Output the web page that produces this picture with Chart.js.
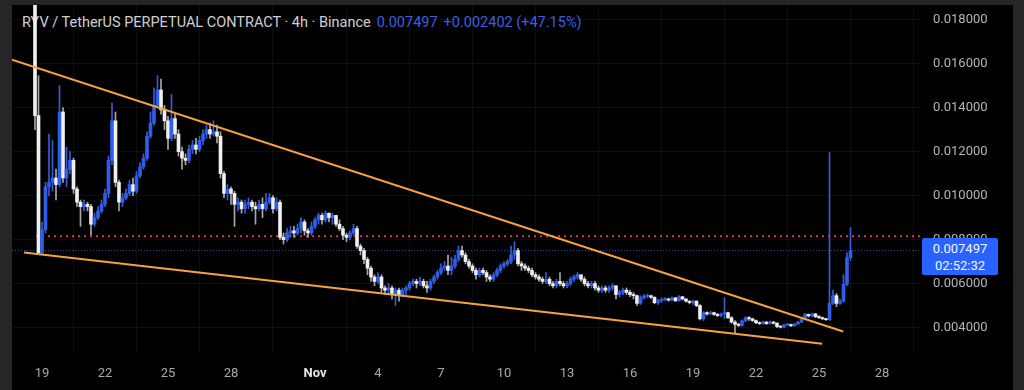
<!DOCTYPE html>
<html>
<head>
<meta charset="utf-8">
<script src="https://cdn.jsdelivr.net/npm/chart.js@4.4.1/dist/chart.umd.min.js"></script>
<style>
  html, body { margin: 0; padding: 0; background: #262626; }
  #wrap { position: relative; width: 1024px; height: 390px; overflow: hidden; }
  #panel { position: absolute; left: 12px; top: 5px; width: 1001px; height: 385px; background: #000; }
  #title { position: absolute; left: 22px; top: 14px; font: 14.5px Roboto, sans-serif; color: #cfcfcf; white-space: nowrap; }
  #title .blue { color: #3b5ee0; margin-left: 6px; }
  #chart { position: absolute; left: 0; top: 0; }
  #priceBox { position: absolute; left: 922px; top: 238px; width: 76px; height: 37px; background: #2962ff;
    border-radius: 2px; color: #f4f6ff; font: 13px Roboto, sans-serif; line-height: 17px; text-align: center; padding-top: 2px; box-sizing: border-box; }
</style>
</head>
<body>
<div id="wrap">
  <div id="panel"></div>
  <div id="title">RYV / TetherUS PERPETUAL CONTRACT · 4h · Binance<span class="blue">0.007497</span><span class="blue">+0.002402 (+47.15%)</span></div>
  <canvas id="chart" width="1024" height="390"></canvas>
  <div id="priceBox">0.007497<br>02:52:32</div>
</div>
<script>
// 4h candles, x = candle index (0 = Oct 19 00:00), open = previous close
const firstOpen = 0.0196;
const closes = [
  0.01364, 0.00741,
  0.00845, 0.0104, 0.0106, 0.0108, 0.0105, 0.0138, 0.0108, 0.0112, 0.0116, 0.0103,
  0.0097, 0.0095, 0.0096, 0.0095, 0.0087, 0.0090, 0.0093, 0.0096, 0.0101, 0.0116,
  0.0134, 0.0106, 0.0097, 0.0099, 0.0101, 0.0105, 0.0102, 0.0109, 0.0113, 0.0117,
  0.0127, 0.0133, 0.0141, 0.0148, 0.0139, 0.0134, 0.0126, 0.0135, 0.0128, 0.0120,
  0.0117, 0.0116, 0.0121, 0.0123, 0.0121, 0.0125, 0.0128, 0.0130, 0.0128, 0.0129,
  0.0127, 0.0110, 0.0101, 0.0103, 0.0101, 0.0096, 0.0097, 0.0094, 0.0096, 0.0097,
  0.0095, 0.0094, 0.0096, 0.0094, 0.0097, 0.0099, 0.0094, 0.0097, 0.0081, 0.0080,
  0.0083, 0.0084, 0.0083, 0.0085, 0.0088, 0.0084, 0.0083, 0.0086, 0.0089, 0.0091,
  0.0089, 0.0092, 0.0090, 0.0091, 0.0087, 0.0085, 0.0082, 0.0081, 0.0083, 0.0085,
  0.0077, 0.0075, 0.0071, 0.0067, 0.0063, 0.0061, 0.0063, 0.0058, 0.0057, 0.0058,
  0.0055, 0.0057, 0.0055, 0.0057, 0.0058, 0.0060, 0.0061, 0.0060, 0.0061, 0.0059,
  0.0058, 0.0061, 0.0063, 0.0065, 0.0067, 0.0068, 0.0066, 0.0068, 0.0071, 0.0075,
  0.0073, 0.0070, 0.0068, 0.0066, 0.0064, 0.0066, 0.0065, 0.0063, 0.0062, 0.0064,
  0.0066, 0.0068, 0.0069, 0.0070, 0.0073, 0.0075, 0.0069, 0.0068, 0.0067, 0.0066,
  0.0064, 0.0063, 0.0062, 0.0061, 0.0062, 0.0060, 0.0059, 0.0061, 0.0060, 0.0059,
  0.0060, 0.0062, 0.0063, 0.0064, 0.0062, 0.0060, 0.0059, 0.0060, 0.0058, 0.0057,
  0.0058, 0.0057, 0.0058, 0.0059, 0.0055, 0.0056, 0.0057, 0.0056, 0.0055, 0.00545,
  0.00510, 0.00535, 0.00543, 0.00545, 0.00538, 0.00513, 0.00522, 0.00528, 0.00530, 0.00525,
  0.00535, 0.00522, 0.00540, 0.00530, 0.00520, 0.00514, 0.00520, 0.00500, 0.00440, 0.00468,
  0.00462, 0.00468, 0.00460, 0.00455, 0.00462, 0.00468, 0.00445, 0.00425, 0.00415, 0.00410,
  0.00430, 0.00445, 0.00440, 0.00432, 0.00422, 0.00418, 0.00425, 0.00418, 0.00425, 0.00420,
  0.00405, 0.00402, 0.00412, 0.00414, 0.00408, 0.00416, 0.00425, 0.00440, 0.00460, 0.00453,
  0.00462, 0.00450, 0.00445, 0.00440, 0.00436, 0.00510, 0.00545, 0.00510, 0.00520, 0.00597,
  0.00718, 0.007497
];
const highs = [
  0.0210, 0.01545,
  0.0088, 0.0106, 0.0128, 0.0125, 0.0112, 0.0150, 0.0140, 0.0122, 0.0120, 0.0117,
  0.0104, 0.0098, 0.0098, 0.0097, 0.0096, 0.0092, 0.0095, 0.0098, 0.0103, 0.0118,
  0.0142, 0.0138, 0.0107, 0.0101, 0.0103, 0.0107, 0.0108, 0.0111, 0.0115, 0.0119,
  0.0129, 0.0138, 0.0149, 0.01545, 0.0153, 0.0141, 0.0136, 0.0146, 0.0137, 0.0130,
  0.0122, 0.0119, 0.0123, 0.0125, 0.0126, 0.0127, 0.0130, 0.0132, 0.0133, 0.0134,
  0.0132, 0.0129, 0.0111, 0.0105, 0.0104, 0.0102, 0.0099, 0.0098, 0.0098, 0.0099,
  0.0098, 0.0097, 0.0098, 0.0099, 0.0101, 0.0101, 0.0100, 0.0099, 0.0098, 0.0083,
  0.0085, 0.0086, 0.0086, 0.0087, 0.0090, 0.0089, 0.0085, 0.0088, 0.0090, 0.0092,
  0.0092, 0.0093, 0.0092, 0.0092, 0.0091, 0.0089, 0.0086, 0.0083, 0.0084, 0.0087,
  0.0086, 0.0078, 0.0076, 0.0072, 0.0068, 0.0064, 0.0065, 0.0064, 0.0059, 0.0060,
  0.0059, 0.0058, 0.0058, 0.0058, 0.0059, 0.0061, 0.0062, 0.0062, 0.0063, 0.0062,
  0.0061, 0.0062, 0.0064, 0.0066, 0.0069, 0.0070, 0.0073, 0.0072, 0.0073, 0.0077,
  0.0077, 0.0074, 0.0071, 0.0069, 0.0067, 0.0067, 0.0067, 0.0066, 0.0064, 0.0065,
  0.0067, 0.0069, 0.0070, 0.0071, 0.0077, 0.0079, 0.0076, 0.0070, 0.0069, 0.0068,
  0.0067, 0.0065, 0.0064, 0.0063, 0.0065, 0.0063, 0.0061, 0.0062, 0.0065, 0.0061,
  0.0061, 0.0063, 0.0064, 0.0065, 0.0064, 0.0063, 0.0061, 0.0061, 0.0061, 0.0059,
  0.0059, 0.0059, 0.0059, 0.0060, 0.0059, 0.0057, 0.0058, 0.0058, 0.0057, 0.0056,
  0.00548, 0.00545, 0.00550, 0.00552, 0.00548, 0.00540, 0.00528, 0.00535, 0.00536, 0.00534,
  0.00540, 0.00538, 0.00545, 0.00542, 0.00532, 0.00522, 0.00525, 0.00522, 0.00505, 0.00472,
  0.00472, 0.00474, 0.00470, 0.00464, 0.00466, 0.00536, 0.00470, 0.00450, 0.00432, 0.00420,
  0.00435, 0.00450, 0.00450, 0.00443, 0.00435, 0.00426, 0.00430, 0.00428, 0.00430, 0.00428,
  0.00422, 0.00408, 0.00415, 0.00418, 0.00416, 0.00420, 0.00428, 0.00445, 0.00465, 0.00462,
  0.00466, 0.00465, 0.00455, 0.00448, 0.00442, 0.01196, 0.00570, 0.00555, 0.00530, 0.00640,
  0.00740, 0.00855
];
const lows = [
  0.0130, 0.00732,
  0.0073, 0.0083, 0.0100, 0.0102, 0.0098, 0.0104, 0.0106, 0.0104, 0.0110, 0.0101,
  0.0095, 0.0086, 0.0093, 0.0093, 0.0082, 0.0086, 0.0089, 0.0092, 0.0095, 0.0099,
  0.0114, 0.0104, 0.0093, 0.0095, 0.0098, 0.0100, 0.0100, 0.0101, 0.0108, 0.0112,
  0.0116, 0.0126, 0.0132, 0.0140, 0.0137, 0.0130, 0.0121, 0.0125, 0.0126, 0.0118,
  0.0112, 0.0114, 0.0115, 0.0119, 0.0119, 0.0120, 0.0123, 0.0126, 0.0126, 0.0127,
  0.0124, 0.0108, 0.0099, 0.0098, 0.0096, 0.0086, 0.0093, 0.0092, 0.0092, 0.0094,
  0.0093, 0.0087, 0.0093, 0.0090, 0.0093, 0.0096, 0.0092, 0.0093, 0.0080, 0.0078,
  0.0079, 0.0081, 0.0081, 0.0082, 0.0083, 0.0082, 0.0081, 0.0082, 0.0085, 0.0087,
  0.0087, 0.0088, 0.0088, 0.0087, 0.0086, 0.0084, 0.0080, 0.0079, 0.0080, 0.0082,
  0.0076, 0.0073, 0.0069, 0.0064, 0.0061, 0.0059, 0.0060, 0.0056, 0.0055, 0.0055,
  0.0053, 0.0050, 0.0052, 0.0054, 0.0055, 0.0057, 0.0059, 0.0058, 0.0059, 0.0058,
  0.0056, 0.0057, 0.0060, 0.0062, 0.0064, 0.0066, 0.0064, 0.0064, 0.0067, 0.0070,
  0.0072, 0.0069, 0.0067, 0.0065, 0.0062, 0.0063, 0.0064, 0.0061, 0.0061, 0.0061,
  0.0063, 0.0065, 0.0067, 0.0068, 0.0069, 0.0071, 0.0068, 0.0066, 0.0066, 0.0065,
  0.0063, 0.0062, 0.0061, 0.0060, 0.0060, 0.0059, 0.0058, 0.0058, 0.0059, 0.0058,
  0.0058, 0.0059, 0.0061, 0.0062, 0.0061, 0.0059, 0.0058, 0.0058, 0.0057, 0.0056,
  0.0056, 0.0056, 0.0056, 0.0057, 0.0053, 0.0054, 0.0055, 0.0055, 0.0054, 0.0053,
  0.00500, 0.00505, 0.00530, 0.00535, 0.00532, 0.00508, 0.00505, 0.00515, 0.00522, 0.00520,
  0.00522, 0.00518, 0.00520, 0.00525, 0.00515, 0.00508, 0.00505, 0.00495, 0.00435, 0.00432,
  0.00456, 0.00458, 0.00455, 0.00450, 0.00450, 0.00440, 0.00440, 0.00420, 0.00377, 0.00405,
  0.00405, 0.00428, 0.00432, 0.00428, 0.00418, 0.00414, 0.00415, 0.00414, 0.00415, 0.00416,
  0.00400, 0.00398, 0.00398, 0.00408, 0.00405, 0.00406, 0.00414, 0.00422, 0.00436, 0.00448,
  0.00450, 0.00445, 0.00442, 0.00436, 0.00432, 0.00432, 0.00505, 0.00495, 0.00505, 0.00515,
  0.00590, 0.00705
];

// trend lines and levels: [candle index, price]
const upperLine = [[-8.57, 0.01618], [228.9, 0.00382]];
const lowerLine = [[-5.14, 0.00741], [222.9, 0.00327]];
const redLevel = [[-1.7, 0.00815], [250.9, 0.00815]];
const lastPrice = [[-8.57, 0.007497], [250.9, 0.007497]];

const xTickPos = [0, 18, 36, 54, 78, 96, 114, 132, 150, 168, 186, 204, 222, 240];
const xTickLabels = ["19", "22", "25", "28", "Nov", "4", "7", "10", "13", "16", "19", "22", "25", "28"];
const yTicks = [0.004, 0.006, 0.008, 0.010, 0.012, 0.014, 0.016, 0.018];

const opens = closes.map((c, i) => (i === 0 ? firstOpen : closes[i - 1]));
const xs = closes.map((c, i) => i - 2);
const isUp = closes.map((c, i) => c >= opens[i]);

function toPoints(arr) {
  return arr.map((p) => ({ x: p[0], y: p[1] }));
}

// keep chart area exactly where the layout padding puts it
function noScalePadding(scale) {
  scale.paddingTop = 0;
  scale.paddingBottom = 0;
  scale.paddingLeft = 0;
  scale.paddingRight = 0;
}

Chart.defaults.font.family = "Roboto";
Chart.defaults.font.size = 13;

new Chart(document.getElementById("chart"), {
  type: "bar",
  data: {
    datasets: [
      {
        type: "line",
        data: toPoints(upperLine),
        borderColor: "#f5a33c",
        borderWidth: 2,
        pointRadius: 0,
        order: 0,
      },
      {
        type: "line",
        data: toPoints(lowerLine),
        borderColor: "#f5a33c",
        borderWidth: 2,
        pointRadius: 0,
        order: 0,
      },
      {
        data: xs.map((x, i) => ({ x: x, y: [opens[i], closes[i]] })),
        backgroundColor: isUp.map((u) => (u ? "#2f5fe8" : "#f0f0f0")),
        barThickness: 3,
        minBarLength: 1,
        grouped: false,
        order: 1,
      },
      {
        data: xs.map((x, i) => ({ x: x, y: [lows[i], highs[i]] })),
        backgroundColor: isUp.map((u) => (u ? "#3a5cd6" : "#a8a8a8")),
        barThickness: 1,
        grouped: false,
        order: 2,
      },
      {
        type: "line",
        data: toPoints(redLevel),
        borderColor: "#e0384c",
        borderWidth: 2,
        borderDash: [2, 4],
        pointRadius: 0,
        order: 3,
      },
      {
        type: "line",
        data: toPoints(lastPrice),
        borderColor: "#3c4fb8",
        borderWidth: 1,
        borderDash: [1, 2],
        pointRadius: 0,
        order: 3,
      },
    ],
  },
  options: {
    responsive: false,
    animation: false,
    layout: { padding: { left: 12, top: 5, right: 11, bottom: 0 } },
    plugins: {
      legend: { display: false },
      tooltip: { enabled: false },
    },
    scales: {
      x: {
        type: "linear",
        min: -8.571,
        max: 250.857,
        offset: false,
        afterBuildTicks: (scale) => {
          scale.ticks = xTickPos.map((v) => ({ value: v }));
        },
        afterFit: (scale) => {
          scale.height = 38;
          noScalePadding(scale);
        },
        ticks: {
          autoSkip: false,
          maxRotation: 0,
          padding: 14,
          callback: (value, index) => xTickLabels[index],
          color: (ctx) => (ctx.tick && ctx.tick.value === 78 ? "#e6e6e6" : "#a9a9a9"),
          font: (ctx) => ({ size: 13, weight: ctx.tick && ctx.tick.value === 78 ? "bold" : "normal" }),
        },
        grid: { color: "rgba(255,255,255,0.05)", drawTicks: false },
        border: { display: false },
      },
      y: {
        position: "right",
        min: 0.00289,
        max: 0.018664,
        afterBuildTicks: (scale) => {
          scale.ticks = yTicks.map((v) => ({ value: v }));
        },
        afterFit: (scale) => {
          scale.width = 93;
          noScalePadding(scale);
        },
        ticks: {
          padding: 13,
          color: "#b4b4b4",
          callback: (value) => value.toFixed(6),
        },
        grid: { color: "rgba(255,255,255,0.05)", drawTicks: false },
        border: { display: false },
      },
    },
  },
});
</script>
</body>
</html>
